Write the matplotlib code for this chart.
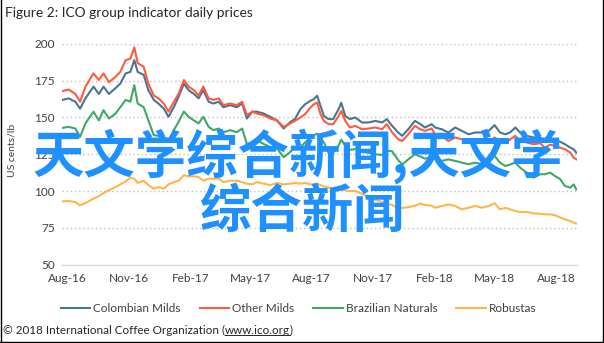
import matplotlib
matplotlib.use("Agg")
import matplotlib.pyplot as plt
import matplotlib.dates as mdates
from matplotlib.lines import Line2D
import pandas as pd

# ---------------- data ----------------
dates = [
"2016-07-25","2016-08-03","2016-08-13","2016-08-20","2016-08-28","2016-09-09","2016-09-17","2016-09-24","2016-10-02","2016-10-12",
"2016-10-19","2016-10-27","2016-11-03","2016-11-09","2016-11-14","2016-11-23","2016-11-30","2016-12-08","2016-12-15","2016-12-23",
"2016-12-30","2017-01-07","2017-01-14","2017-01-22","2017-01-29","2017-02-06","2017-02-13","2017-02-20","2017-02-28","2017-03-07",
"2017-03-15","2017-03-22","2017-04-01","2017-04-11","2017-04-19","2017-04-26","2017-05-04","2017-05-11","2017-05-21","2017-05-31",
"2017-06-10","2017-06-20","2017-06-30","2017-07-07","2017-07-15","2017-07-22","2017-07-30","2017-08-04","2017-08-09","2017-08-14",
"2017-08-19","2017-08-26","2017-09-02","2017-09-10","2017-09-14","2017-09-20","2017-09-27","2017-10-05","2017-10-15","2017-10-25",
"2017-11-04","2017-11-14","2017-11-21","2017-11-29","2017-12-08","2017-12-14","2017-12-23","2018-01-02","2018-01-10","2018-01-17",
"2018-01-27","2018-02-01","2018-02-11","2018-02-21","2018-03-03","2018-03-13","2018-03-23","2018-04-02","2018-04-12","2018-04-22",
"2018-05-01","2018-05-09","2018-05-17","2018-05-24","2018-06-01","2018-06-08","2018-06-18","2018-06-28","2018-07-08","2018-07-15",
"2018-07-23","2018-07-30","2018-08-07","2018-08-14","2018-08-22","2018-08-27","2018-08-31"]

colombian_milds = [
162, 163, 160.7, 156, 163, 171, 166, 171, 166, 170,
173, 180, 181, 189, 181, 179, 168.6, 162, 159.5, 156,
150.5, 157, 164, 173, 168.6, 166, 163, 168.6, 160.7, 159.5,
160.7, 157, 158.4, 157, 159.5, 149.3, 154, 154, 152.7, 150.5,
148, 142.5, 147, 149, 155.7, 159, 161.4, 162.5, 164.8, 158,
151, 148.9, 148.9, 155.7, 160, 151, 148.9, 150, 146.6, 146.6,
147.7, 146.6, 148.9, 144.3, 139.8, 137.5, 142, 147.7, 145.5, 143.2,
145.5, 143.2, 142, 139.8, 143.2, 140.9, 138.6, 139.8, 139.8, 140.9,
144.8, 139.8, 138.6, 139.8, 143.2, 139.8, 137.5, 136.4, 136.4, 134,
134.5, 134, 133.5, 131.8, 129.5, 128.4, 126.1]

other_milds = [
168, 169, 166, 160.7, 171, 180, 175.5, 180, 174, 177.7,
181, 189, 190, 197.7, 187, 184.5, 173, 165, 163, 159.5,
154, 160.7, 166, 175.5, 171, 168.6, 165, 171, 163, 162,
163, 158.4, 159.5, 158.4, 160.7, 151.6, 154, 152.7, 151.6, 149.3,
148, 143.6, 146, 147.7, 150, 152.3, 156.8, 159, 160.2, 152.3,
147.7, 145.5, 145.5, 151, 154.5, 147.7, 143.2, 144.3, 142, 142.5,
143.2, 142, 145.5, 139.8, 135.2, 134, 138.6, 144.3, 142, 140.9,
142.5, 138.6, 137.5, 134, 136.4, 135.2, 133, 135, 133, 134,
136.4, 134, 133, 135, 137.5, 134, 133, 131.8, 132.5, 129.5,
131.5, 130.7, 129.5, 128.4, 126.1, 122.7, 121.6]

brazilian_naturals = [
143, 143.6, 142.5, 136.8, 146, 154, 148, 155, 149.3, 152.7,
157, 162, 160.7, 172, 159.5, 157, 148, 138, 137.5, 136.8,
134.5, 141.4, 147, 154, 150.5, 148, 146, 150.5, 143.6, 141.4,
142.5, 140, 141.4, 140, 142.5, 132, 133, 134.5, 132, 130,
129, 123, 126.6, 130, 130, 133, 136, 138, 139, 136,
133, 126, 126, 131, 135, 130.7, 128, 128.5, 126.5, 126,
125, 124.5, 127.5, 127, 121, 118, 121.5, 125, 123.5, 122,
123, 122.7, 120.5, 121.5, 120.5, 119.3, 118.2, 119.3, 118.2, 120.5,
123.9, 119.3, 117, 118, 119.3, 115.9, 112.5, 109.1, 111.4, 111.4,
112.5, 110.2, 108, 103.4, 102.3, 104.5, 101.1]

robustas = [
93, 93.2, 92.5, 90.2, 91.8, 94.8, 96.5, 98.6, 100.5, 102.7,
104.5, 106.5, 109, 108.4, 105.5, 107, 104, 101.6, 102.7, 101.6,
104.5, 106, 107, 110.7, 110, 110, 109.5, 107, 108.4, 108.4,
108.4, 106, 107, 107, 106, 105, 104.5, 106, 105, 104,
105.5, 104.5, 105, 105.4, 105, 105.5, 104.5, 104, 105, 104,
103, 102.5, 101.6, 102, 101, 100.5, 100, 100, 98, 96,
94, 92.5, 91.5, 90.5, 88, 88.5, 89, 90, 91.4, 90.5,
90, 88.6, 89.8, 90.9, 89.8, 87.5, 88.6, 89.8, 88.6, 89.8,
91.6, 87.5, 88.6, 87.5, 86.4, 85.7, 85.7, 84.8, 84.5, 84.1,
84.1, 83.5, 82, 80.7, 79.5, 78.4, 77.9]

series_names = ["Colombian Milds", "Other Milds", "Brazilian Naturals", "Robustas"]
series_colors = ["#4a7590", "#ff5a40", "#3fa865", "#ffb547"]
y_ticks = [50, 75, 100, 125, 150, 175, 200]
x_tick_dates = ["2016-08-01", "2016-11-01", "2017-02-01", "2017-05-01", "2017-08-01",
                "2017-11-01", "2018-02-01", "2018-05-01", "2018-08-01"]

title_text = "Figure 2: ICO group indicator daily prices"
y_label = "US cents/lb"
source_parts = ["\u00a9 2018 International Coffee Organization (", "www.ico.org", ")"]
watermark_lines = ["天文学综合新闻,天文学", "综合新闻"]

# ---------------- figure ----------------
W, H = 604, 343
fig = plt.figure(figsize=(W / 100, H / 100), dpi=100)
fig.patch.set_facecolor("white")
latin = "Lato"
txt_col = "#404040"

ax = fig.add_axes([62 / W, 1 - 264.5 / H, 515 / W, 220.5 / H])
x = pd.to_datetime(dates)
for vals, name, col in zip([colombian_milds, other_milds, brazilian_naturals, robustas],
                           series_names, series_colors):
    ax.plot(x, vals, color=col, lw=1.5, label=name, solid_joinstyle="round")

ax.set_ylim(50, 200)
ax.set_xlim(pd.Timestamp("2016-07-24"), pd.Timestamp("2018-09-01"))
ax.set_yticks(y_ticks)
ax.set_xticks(pd.to_datetime(x_tick_dates))
ax.xaxis.set_major_formatter(mdates.DateFormatter("%b-%y"))
for s in ["top", "right", "left"]:
    ax.spines[s].set_visible(False)
ax.spines["bottom"].set_color("#d9d9d9")
ax.spines["bottom"].set_linewidth(1.0)
ax.tick_params(axis="both", length=0, labelsize=8.5, labelcolor=txt_col)
ax.tick_params(axis="y", pad=5)
ax.tick_params(axis="x", pad=6)
for lab in ax.get_xticklabels() + ax.get_yticklabels():
    lab.set_fontfamily(latin)
ax.grid(axis="y", color="#bfbfbf", linestyle=(0, (1, 2)), linewidth=1.0)
ax.grid(axis="x", visible=False)
ax.set_axisbelow(True)

# y label
fig.text(12 / W, 1 - 150 / H, y_label, rotation=90, ha="center", va="center",
         fontsize=7.5, color=txt_col, family=latin)

# title
fig.text(5 / W, 1 - 13 / H, title_text, ha="left", va="center", fontsize=9.9,
         color="#262626", family=latin)

# legend
fig.legend(loc="center", bbox_to_anchor=(298.5 / W, 1 - 309 / H), ncol=4, frameon=False,
           prop={"family": latin, "size": 8.5}, handlelength=2.5, handletextpad=0.25,
           columnspacing=1.6, labelcolor=txt_col)

# source line with underlined url
fig.canvas.draw()
renderer = fig.canvas.get_renderer()
xpos = 3
ypos = 1 - 330 / H
for i, part in enumerate(source_parts):
    t = fig.text(xpos / W, ypos, part, ha="left", va="center", fontsize=8.4,
                 color="#262626", family=latin)
    bb = t.get_window_extent(renderer)
    if i == 1:
        fig.add_artist(Line2D([bb.x0 / W, bb.x1 / W], [(bb.y0 + 1) / H, (bb.y0 + 1) / H],
                              color="#262626", lw=0.7, transform=fig.transFigure))
    xpos = bb.x1

# watermark
wm_col = "#1e90ff"
fig.text(298 / W, 1 - 173 / H, watermark_lines[0], ha="center", va="baseline",
         fontsize=37, color=wm_col, family=["Noto Sans CJK SC", "DejaVu Sans"], weight="bold")
fig.text(303 / W, 1 - 227 / H, watermark_lines[1], ha="center", va="baseline",
         fontsize=37, color=wm_col, family=["Noto Sans CJK SC", "DejaVu Sans"], weight="bold")

# outer border (left, right, bottom)
for xs, ys in [([0.5 / W, 0.5 / W], [0, 1]), ([1 - 1.5 / W, 1 - 1.5 / W], [0, 1]),
               ([0, 1], [1.5 / H, 1.5 / H])]:
    fig.add_artist(Line2D(xs, ys, color="black", lw=1.0, transform=fig.transFigure))

fig.savefig("out.png", dpi=100, facecolor="white")
